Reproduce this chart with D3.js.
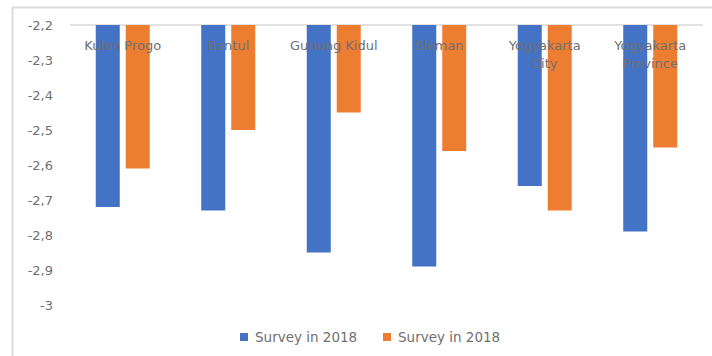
<!DOCTYPE html>
<html><head><meta charset="utf-8">
<script src="https://cdn.jsdelivr.net/npm/d3@7"></script>
<style>body{margin:0;background:#fff;} svg{display:block;}</style>
</head><body>
<svg id="c" width="712" height="356"></svg>
<script>
const categories = [["Kulon Progo"], ["Bantul"], ["Gunung Kidul"], ["Sleman"], ["Yogyakarta", "City"], ["Yogyakarta", "Province"]];
const seriesNames = ["Survey in 2018", "Survey in 2018"];
const series1 = [-2.72, -2.73, -2.85, -2.89, -2.66, -2.79];
const series2 = [-2.61, -2.50, -2.45, -2.56, -2.73, -2.55];
const yTicks = [-2.2, -2.3, -2.4, -2.5, -2.6, -2.7, -2.8, -2.9, -3];
const colors = ["#4472C4", "#ED7D31"];

const svg = d3.select("#c");
const font = "'DejaVu Sans', sans-serif";
const textColor = "#707070";

// outer frame (top & left visible)
svg.append("line").attr("x1", 12).attr("x2", 712).attr("y1", 7.5).attr("y2", 7.5).attr("stroke", "#dcdcdc").attr("stroke-width", 2);
svg.append("line").attr("x1", 12.5).attr("x2", 12.5).attr("y1", 7).attr("y2", 356).attr("stroke", "#dcdcdc").attr("stroke-width", 2);

const x0 = d3.scaleBand().domain(d3.range(categories.length)).range([70, 703]);
const y = d3.scaleLinear().domain([-2.2, -3]).range([25, 305]);

// top axis line at -2.2
svg.append("line").attr("x1", 70).attr("x2", 703).attr("y1", y(-2.2)).attr("y2", y(-2.2)).attr("stroke", "#d9d9d9").attr("stroke-width", 1.5);

// y axis labels
const yAxis = d3.axisLeft(y).tickValues(yTicks).tickSize(0).tickPadding(0)
  .tickFormat(d => String(d).replace(".", ","));
const gy = svg.append("g").attr("transform", "translate(53,0)").call(yAxis);
gy.select(".domain").remove();
gy.selectAll("text").attr("font-family", font).attr("font-size", 13).attr("fill", textColor).attr("dy", "0.35em");

// bars
const barW = 24, gap = 6;
const data = [series1, series2];
data.forEach((s, si) => {
  svg.append("g").selectAll("rect").data(s).join("rect")
    .attr("x", (d, i) => x0(i) + x0.bandwidth() / 2 - barW - gap / 2 + si * (barW + gap))
    .attr("y", y(-2.2))
    .attr("width", barW)
    .attr("height", d => y(d) - y(-2.2))
    .attr("fill", colors[si]);
});

// category labels
const lab = svg.append("g");
categories.forEach((lines, i) => {
  const cx = x0(i) + x0.bandwidth() / 2;
  const t = lab.append("text").attr("x", cx).attr("y", 50)
    .attr("text-anchor", "middle").attr("font-family", font).attr("font-size", 13)
    .attr("fill", textColor);
  lines.forEach((l, j) => t.append("tspan").attr("x", cx).attr("dy", j ? 18 : 0).text(l));
});

// legend
const legX = [240, 383];
seriesNames.forEach((n, i) => {
  const g = svg.append("g").attr("transform", `translate(${legX[i]},337)`);
  g.append("rect").attr("x", 0).attr("y", -4).attr("width", 8).attr("height", 8).attr("fill", colors[i]);
  g.append("text").attr("x", 15).attr("y", 0).attr("dy", "0.35em").attr("font-family", font).attr("font-size", 13.5)
    .attr("fill", textColor).text(n);
});
</script>
</body></html>
